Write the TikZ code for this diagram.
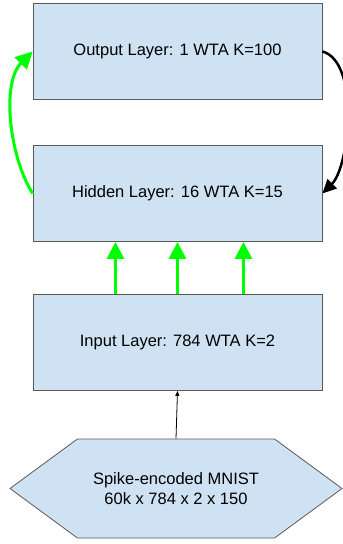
\documentclass[tikz,border=0pt]{standalone}
\usepackage{fontspec}
\setmainfont{Liberation Sans}
\usetikzlibrary{arrows.meta}
\usetikzlibrary{shapes.symbols}
\usetikzlibrary{calc}

\definecolor{layerblue}{HTML}{CFE2F3}
\definecolor{layeredge}{HTML}{595959}
\definecolor{spikegreen}{HTML}{00FF00}

\begin{document}
\begin{tikzpicture}[x=1pt,y=-1pt,
	layer/.style={draw=layeredge, fill=layerblue, line width=0.8pt, inner sep=0pt,
		minimum width=289pt, minimum height=96pt, font=\fontsize{16.5}{20}\selectfont},
	greenarrow/.style={draw=spikegreen, line width=3pt, -{Triangle[length=17pt,width=17pt]}},
	blackarrow/.style={draw=black, line width=2.5pt, -{Triangle[length=14pt,width=13pt]}}]
	\useasboundingbox (0,0) rectangle (343,544);

%% Layers
	\node[layer] (output) at (177.5,51.5) {Output Layer: 1 WTA K=100};
	\node[layer] (hidden) at (177.5,193.5) {Hidden Layer: 16 WTA K=15};
	\node[layer] (input)  at (177.5,342.5) {Input Layer: 784 WTA K=2};

%% Data set
	\node[layer, signal, signal to=west and east, signal pointer angle=72.6,
		minimum width=332pt, minimum height=99pt, align=center] (mnist) at (176,488.5)
		{Spike-encoded MNIST\\60k x 784 x 2 x 150};

%% Feed forward
	\draw[-{Triangle[length=5pt,width=4pt]}, line width=0.8pt] (mnist.north) -- (input.south);
	\draw[greenarrow] ([xshift=-62pt]input.north) -- ([xshift=-62pt]hidden.south);
	\draw[greenarrow] (input.north) -- (hidden.south);
	\draw[greenarrow] ([xshift=66pt]input.north) -- ([xshift=66pt]hidden.south);
	\draw[greenarrow] (hidden.west) to[out=122, in=225, looseness=0.8] (output.west);

%% Feedback
	\draw[blackarrow] (output.east) to[out=-15, in=45, looseness=0.7] (hidden.east);
\end{tikzpicture}
\end{document}
